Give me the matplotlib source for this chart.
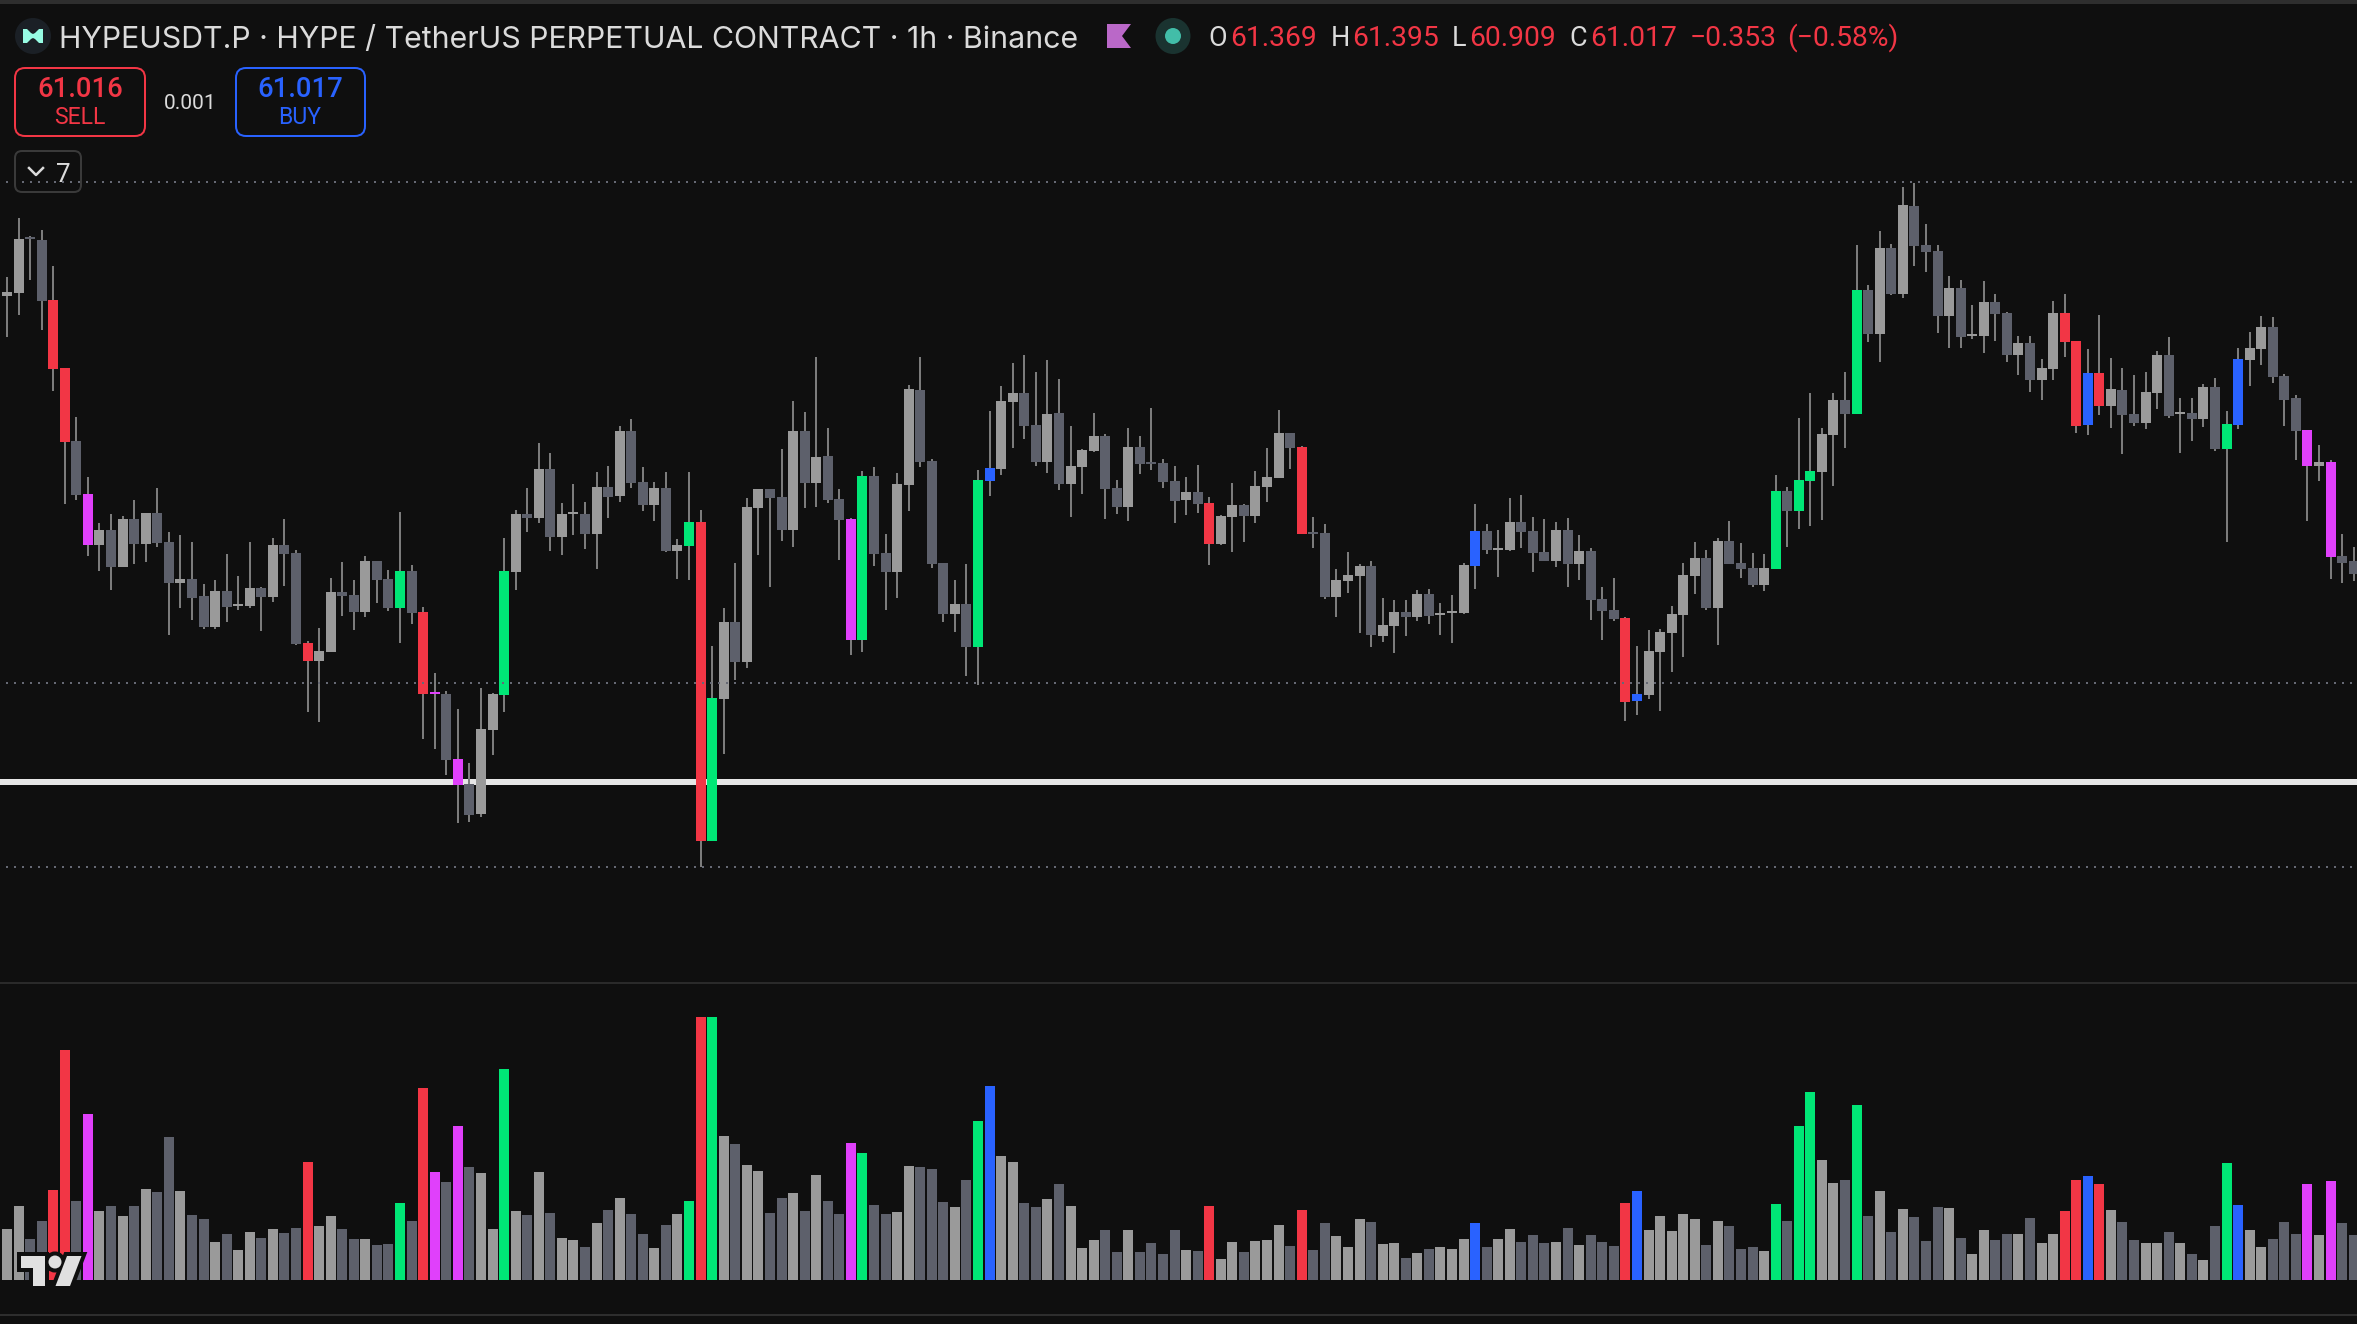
import matplotlib
matplotlib.use("Agg")
import matplotlib.pyplot as plt
from matplotlib.patches import FancyBboxPatch, Circle, Ellipse, Polygon
import numpy as np

# ---- Chart data ----
highs = [
 67.05,67.23,67.82,67.64,67.70,67.34,66.32,65.83,65.23,64.77,
 64.86,64.84,65.00,64.87,65.12,64.68,64.65,64.58,64.16,64.20,
 64.46,64.24,64.58,64.13,64.62,64.81,64.50,63.59,63.72,64.22,
 64.38,64.20,64.44,64.39,64.30,64.88,64.35,63.93,63.27,63.09,
 62.91,62.37,63.12,63.07,64.62,64.90,65.12,65.57,65.47,64.97,
 65.16,64.98,65.28,65.34,65.74,65.81,65.33,65.18,65.28,64.61,
 65.28,64.90,63.54,63.92,64.37,65.02,65.11,65.11,65.51,65.99,
 65.88,66.43,65.72,65.11,64.82,65.29,65.33,64.66,65.27,66.15,
 66.43,65.41,64.37,64.20,64.36,65.30,65.89,66.14,66.37,66.45,
 66.28,66.40,66.21,65.74,65.51,65.87,65.66,65.20,65.72,65.64,
 65.92,65.41,65.34,65.23,65.35,65.03,64.85,65.17,64.96,65.29,
 65.52,65.90,65.67,65.54,64.83,64.76,64.31,64.48,64.36,64.39,
 64.02,64.00,64.00,64.10,64.11,63.97,64.05,64.37,64.96,64.76,
 64.70,65.02,65.05,64.83,64.81,64.78,64.82,64.65,64.52,64.13,
 64.22,63.83,63.54,63.70,63.71,63.94,64.37,64.58,64.50,64.62,
 64.79,64.57,64.47,64.46,65.25,65.13,65.82,66.07,65.72,66.07,
 66.28,67.55,67.15,67.69,67.56,68.13,68.17,67.76,67.55,67.24,
 67.20,66.95,67.19,67.06,66.88,66.64,66.64,66.41,66.99,67.06,
 66.59,66.51,66.85,66.42,66.32,66.25,66.28,66.49,66.63,66.02,
 66.02,66.16,66.22,65.89,66.52,66.68,66.84,66.83,66.26,66.05,
 65.70,65.55,65.40,64.66,64.53,
]
body_tops = [
 67.05,67.08,67.61,67.63,67.60,67.00,66.32,65.59,65.06,64.70,
 64.70,64.81,64.81,64.87,64.87,64.58,64.21,64.21,64.04,64.09,
 64.09,63.96,64.12,64.12,64.55,64.55,64.47,63.57,63.49,64.08,
 64.08,64.05,64.39,64.39,64.21,64.29,64.29,63.88,63.08,63.06,
 62.41,62.16,62.71,63.06,64.29,64.86,64.86,65.31,65.31,64.86,
 64.88,64.86,65.13,65.13,65.69,65.69,65.18,65.12,65.12,64.55,
 64.78,64.78,63.02,63.78,63.78,64.93,65.11,65.11,65.03,65.69,
 65.69,65.43,65.44,65.01,64.81,65.24,65.24,64.47,65.16,66.11,
 66.10,65.39,64.37,63.96,63.96,65.20,65.32,65.99,66.07,66.07,
 65.75,65.86,65.87,65.34,65.50,65.64,65.64,65.12,65.53,65.53,
 65.38,65.37,65.19,65.08,65.08,64.97,64.84,64.95,64.95,65.14,
 65.23,65.67,65.67,65.53,64.68,64.67,64.20,64.25,64.34,64.34,
 63.75,63.88,63.88,64.06,64.06,63.87,63.89,64.35,64.69,64.69,
 64.52,64.78,64.78,64.69,64.48,64.70,64.70,64.49,64.49,64.01,
 63.90,63.82,63.06,63.49,63.68,63.86,64.25,64.42,64.42,64.59,
 64.59,64.37,64.32,64.32,65.09,65.09,65.20,65.29,65.66,66.00,
 66.00,67.10,67.10,67.52,67.52,67.95,67.94,67.55,67.49,67.12,
 67.12,66.66,66.98,66.98,66.87,66.57,66.57,66.32,66.87,66.87,
 66.59,66.27,66.27,66.11,66.10,65.86,66.08,66.45,66.45,65.88,
 65.87,66.13,66.13,65.76,66.41,66.52,66.73,66.73,66.24,66.02,
 65.70,65.38,65.38,64.44,64.39,
]
body_bottoms = [
 67.02,67.04,67.07,67.61,66.99,66.31,65.58,65.05,64.55,64.55,
 64.33,64.33,64.56,64.56,64.57,64.17,64.17,64.02,63.73,63.73,
 63.93,63.94,63.94,64.03,64.03,64.46,63.56,63.39,63.39,63.48,
 64.04,63.88,63.88,64.20,63.92,63.92,63.87,63.06,63.06,62.40,
 62.15,61.85,61.86,62.70,63.05,64.28,64.82,64.82,64.63,64.63,
 64.86,64.66,64.66,65.03,65.04,65.17,64.95,64.95,64.49,64.49,
 64.54,61.59,61.59,63.01,63.38,63.38,64.92,65.02,64.70,64.70,
 65.17,65.17,65.00,64.80,63.60,63.60,64.46,64.28,64.28,65.15,
 65.38,64.36,63.86,63.86,63.53,63.53,65.19,65.31,65.98,65.74,
 65.38,65.38,65.16,65.16,65.33,65.49,65.11,64.93,64.93,65.36,
 65.36,65.18,64.99,65.00,64.96,64.56,64.56,64.83,64.84,64.84,
 65.13,65.22,65.52,64.66,64.66,64.03,64.03,64.19,64.24,63.65,
 63.64,63.74,63.83,63.83,63.84,63.85,63.87,63.87,64.34,64.50,
 64.50,64.50,64.68,64.47,64.39,64.39,64.36,64.36,64.00,63.89,
 63.81,62.98,62.99,63.05,63.48,63.67,63.85,64.24,63.92,63.92,
 64.36,64.31,64.15,64.15,64.31,64.89,64.89,65.19,65.28,65.65,
 65.86,65.86,66.66,66.66,67.06,67.06,67.54,67.48,66.84,66.84,
 66.63,66.64,66.64,66.86,66.45,66.45,66.20,66.20,66.31,66.58,
 65.74,65.75,65.94,65.94,65.85,65.77,65.77,66.07,65.84,65.86,
 65.81,65.81,65.51,65.51,65.75,66.40,66.51,66.23,66.00,65.69,
 65.34,65.34,64.43,64.37,64.26,
]
lows = [
 67.02,66.63,66.85,67.20,66.70,66.09,64.96,65.00,64.44,64.29,
 64.10,64.33,64.36,64.38,64.53,63.65,63.92,63.80,63.71,63.71,
 63.78,63.90,63.92,63.69,63.98,64.14,63.55,62.88,62.78,63.48,
 63.84,63.70,63.83,63.97,63.89,63.57,63.76,62.61,62.51,62.25,
 61.77,61.78,61.83,62.45,62.88,64.10,64.68,64.77,64.49,64.45,
 64.65,64.51,64.31,64.82,64.98,65.12,64.89,64.79,64.48,64.21,
 64.20,61.33,61.59,62.46,63.20,63.32,64.45,64.13,64.59,64.53,
 64.92,64.93,64.97,64.40,63.45,63.48,64.34,63.90,64.02,64.89,
 65.33,64.32,63.78,63.68,63.24,63.15,65.04,65.25,65.52,65.61,
 65.34,65.27,65.10,64.83,65.06,65.48,64.81,64.86,64.79,65.26,
 65.30,65.12,64.77,64.85,64.87,64.35,64.55,64.48,64.58,64.77,
 64.98,65.22,65.31,64.66,64.52,64.01,63.83,64.07,63.67,63.53,
 63.58,63.47,63.64,63.79,63.76,63.65,63.57,63.86,64.11,64.46,
 64.23,64.49,64.52,64.28,64.39,64.33,64.13,64.20,63.80,63.60,
 63.79,62.79,62.85,63.01,62.89,63.28,63.43,64.06,63.90,63.55,
 64.36,64.22,64.13,64.09,64.31,64.53,64.71,64.74,64.80,65.14,
 65.52,65.86,66.58,66.38,67.05,67.02,67.34,67.28,66.67,66.52,
 66.52,66.61,66.47,66.59,66.38,66.25,66.08,66.00,66.20,66.43,
 65.67,65.65,65.85,65.72,65.46,65.74,65.71,65.91,65.82,65.47,
 65.59,65.73,65.49,64.58,65.71,66.14,66.35,66.17,65.74,65.40,
 64.79,65.19,64.21,64.17,64.19,
]
candle_kinds = list(
 "uuuddrrdmu" "dududduddu" "duududdruu" "dduddgdrmd" "mduugududu"
 "udududdudu" "grguduuddu" "duddmgdduu" "dddudgbuud" "duduuuddud"
 "dddudruudu" "uudrdduuud" "uududuuubd" "uudddududd" "drbuuuuudu"
 "dddugdgguu" "dgdududddu" "duudduduur" "rbrudduudu" "dudgbuuddd"
 "mumdd"
)
volumes = [
 0,
 51,74,41,59,90,230,79,166,69,74,64,74,91,88,143,89,65,61,38,46,30,48,42,51,47,52,118,54,64,51,41,41,35,36,77,59,
 192,108,98,154,113,107,51,211,69,65,108,67,42,40,33,57,
 70,82,66,46,32,55,66,79,263,263,144,136,115,109,67,82,87,69,105,79,66,137,127,75,66,68,114,113,111,78,73,100,159,
 194,124,118,77,73,81,96,74,32,40,50,28,50,28,37,26,50,30,29,
 74,21,38,28,39,40,55,34,70,30,57,44,33,61,58,36,37,22,27,31,33,31,41,57,33,41,51,38,45,37,38,52,35,45,38,34,77,89,
 50,64,49,66,61,35,59,54,31,33,29,76,59,154,
 188,120,97,100,175,64,89,48,71,63,39,73,72,42,26,50,40,46,46,62,37,46,69,100,104,96,70,58,40,37,37,48,37,26,20,54,
 117,75,50,33,41,58,46,96,45,99,57,45,
]
candle_index = list(range(-1, 204))
dotted_levels = [68.18, 63.17, 61.33]
white_level = 62.18

title_text = "HYPEUSDT.P · HYPE / TetherUS PERPETUAL CONTRACT · 1h · Binance"
ohlc_labels = ["O", "H", "L", "C"]
ohlc_values = ["61.369", "61.395", "60.909", "61.017"]
change_text = ["−0.353", "(−0.58%)"]
sell_price, buy_price, spread = "61.016", "61.017", "0.001"

# ---- Styles ----
BG = "#0f0f0f"
KIND_COLORS = {"u": "#9a9a9a", "d": "#5d606b", "r": "#f23645",
               "g": "#00e676", "m": "#e040fb", "b": "#2962ff"}
WICK = "#7c7c7c"
W, H = 2357, 1324
def px(v):
    return v * 0.72

plt.rcParams["font.family"] = ["Inter", "DejaVu Sans"]
NUM = ["Roboto", "DejaVu Sans"]
fig = plt.figure(figsize=(W / 100, H / 100), dpi=100, facecolor=BG)

colors = [KIND_COLORS[k] for k in candle_kinds]
x = np.array(candle_index, dtype=float)
xlim = ((0 - 7) / 11.56, (W - 7) / 11.56)
bar_w = 10 / 11.56

# Price pane
ax = fig.add_axes([0, (H - 982) / H, 1, 982 / H], facecolor=BG)
ax.set_xlim(*xlim)
ax.set_ylim(70 - 982 / 100, 70)
ax.axis("off")
ax.axhline(white_level, color="#e6e6e6", lw=px(6), zorder=1)
wicks = ax.vlines(x, lows, highs, color=WICK, lw=px(2), zorder=2)
wicks.set_capstyle("butt")
tops = np.array(body_tops)
bots = np.array(body_bottoms)
ax.bar(x, tops - bots, bottom=bots, width=bar_w, color=colors, linewidth=0, zorder=3)
for lv in dotted_levels:
    ax.plot([xlim[0] + 6 / 11.56, xlim[1]], [lv, lv], color="#666974", lw=px(2),
            ls=(0, (1, 3)), zorder=4, dash_capstyle="butt")

# Volume pane
vx = fig.add_axes([0, (H - 1313) / H, 1, (1313 - 984) / H], facecolor=BG)
vx.set_xlim(*xlim)
vx.set_ylim(-33, 296)
vx.axis("off")
vx.bar(x, volumes, width=bar_w, color=colors, linewidth=0)

# Interface overlay, in picture pixels
ui = fig.add_axes([0, 0, 1, 1], facecolor="none")
ui.set_xlim(0, W)
ui.set_ylim(H, 0)
ui.axis("off")
ui.fill_between([0, W], 0, 4, color="#2e2e2e", lw=0)
ui.plot([0, W], [983, 983], color="#2a2a2a", lw=px(2))
ui.plot([0, W], [1315, 1315], color="#2e2e2e", lw=px(2))

TXT = "#dbdbdb"
RED = "#f23645"
BLUE = "#2962ff"
ui.add_patch(Circle((33, 36), 18, color="#1b2026", lw=0))
ui.add_patch(Polygon([(23, 29), (27, 29), (31, 33), (33, 34), (35, 33), (39, 29), (43, 29),
                      (43, 43), (39, 43), (35, 39), (33, 38), (31, 39), (27, 43), (23, 43)],
                     color="#97fce4", lw=0))
ui.text(59, 48, title_text, color=TXT, fontsize=px(30.3), va="baseline", ha="left")
ui.add_patch(Polygon([(1107, 24), (1131, 24), (1122, 36), (1131, 48), (1107, 48)],
                     color="#ba68c8", lw=0))
ui.add_patch(Ellipse((1173, 36), 35, 36, color="#1a3330", lw=0))
ui.add_patch(Ellipse((1173, 36), 16, 16, color="#42bda8", lw=0))
for lx, vx_pos, lab, val in zip([1208, 1331, 1452, 1569], [1230, 1352, 1469, 1590],
                                ohlc_labels, ohlc_values):
    ui.text(lx, 46, lab, color=TXT, fontsize=px(27), va="baseline", ha="left", family=NUM)
    ui.text(vx_pos, 46, val, color=RED, fontsize=px(28.3), va="baseline", ha="left", family=NUM)
ui.text(1690, 46, change_text[0], color=RED, fontsize=px(28.3), va="baseline", ha="left", family=NUM)
ui.text(1787, 46, change_text[1], color=RED, fontsize=px(28.3), va="baseline", ha="left", family=NUM)

def button(x0, x1, y0, y1, edge, rad=10, lw=2):
    ui.add_patch(FancyBboxPatch((x0 + rad, y0 + rad), x1 - x0 - 2 * rad, y1 - y0 - 2 * rad,
                                boxstyle=f"round,pad={rad},rounding_size={rad}",
                                fc="none", ec=edge, lw=px(lw), mutation_aspect=1))

button(15, 145, 68, 136, RED)
button(236, 365, 68, 136, BLUE)
ui.text(80, 97, sell_price, color=RED, fontsize=px(27.5), va="baseline", ha="center",
        fontweight="medium", family=NUM)
ui.text(80, 124, "SELL", color=RED, fontsize=px(23), va="baseline", ha="center", family=NUM)
ui.text(300, 97, buy_price, color=BLUE, fontsize=px(27.5), va="baseline", ha="center",
        fontweight="medium", family=NUM)
ui.text(300, 124, "BUY", color=BLUE, fontsize=px(23), va="baseline", ha="center", family=NUM)
ui.text(190, 109, spread, color=TXT, fontsize=px(21), va="baseline", ha="center", family=NUM)

button(15, 81, 151, 192, "#3a3a3a", rad=7)
ui.plot([29, 36, 43], [168, 175, 168], color=TXT, lw=px(2.5))
ui.text(63, 182, "7", color=TXT, fontsize=px(26), va="baseline", ha="center", family=NUM)

# Corner logo: dark outline first, then the fill on top
LOGO = "#e0e0e0"
logo_t = [(21, 1256), (45, 1256), (45, 1286), (33, 1286), (33, 1268), (21, 1268)]
logo_s = [(67, 1256), (81.5, 1256), (70, 1286), (55.5, 1286)]
for shape in (Polygon(logo_t), Circle((55, 1262), 6.5), Polygon(logo_s)):
    shape.set(fc=BG, ec=BG, lw=px(8), joinstyle="miter", zorder=5)
    ui.add_patch(shape)
for shape in (Polygon(logo_t), Circle((55, 1262), 6.5), Polygon(logo_s)):
    shape.set(fc=LOGO, ec="none", lw=0, zorder=6)
    ui.add_patch(shape)

fig.savefig("out.png", dpi=100, facecolor=BG)
